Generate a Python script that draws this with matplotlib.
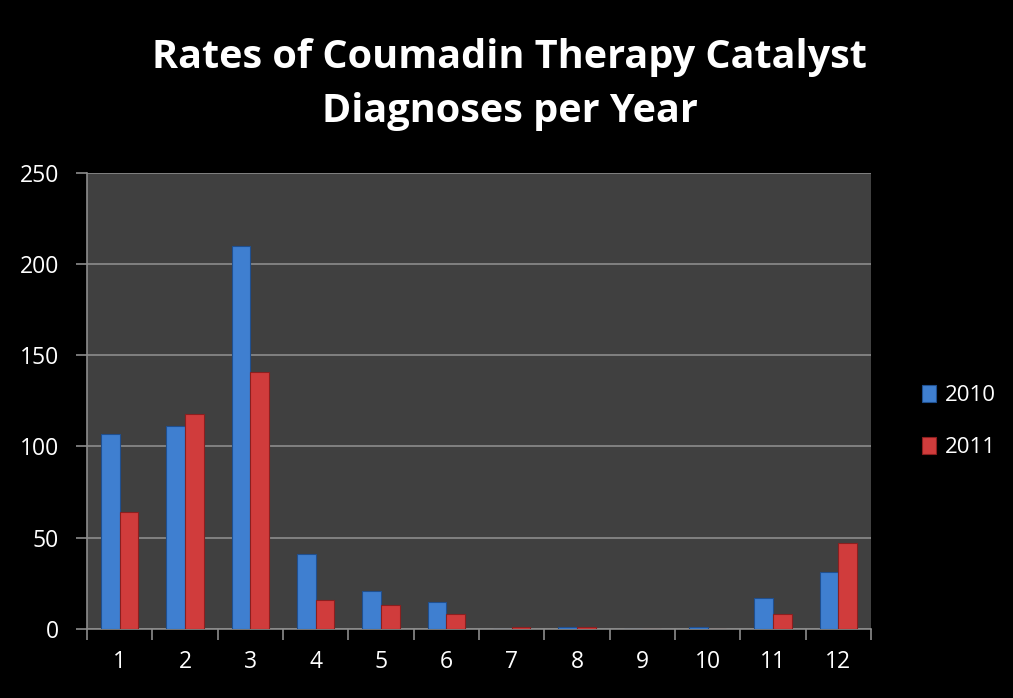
import numpy as np
import matplotlib.pyplot as plt

months = list(range(1, 13))
rates_2010 = [107, 111, 210, 41, 21, 15, 0, 1, 0, 1, 17, 31]
rates_2011 = [64, 118, 141, 16, 13, 8, 1, 1, 0, 0, 8, 47]

plt.rcParams['font.family'] = ['Open Sans', 'DejaVu Sans']

fig = plt.figure(figsize=(10.13, 6.98), dpi=100, facecolor='black')
ax = fig.add_axes([0.0859, 0.0989, 0.7739, 0.6537])
ax.set_facecolor('#404040')

x = np.array(months)
w = 0.285
ax.bar(x - w / 2, rates_2010, w, color='#3f7fd0', edgecolor='#1f4f8f', linewidth=0.8, label='2010', zorder=3)
ax.bar(x + w / 2, rates_2011, w, color='#d03c3c', edgecolor='#8a1f1f', linewidth=0.8, label='2011', zorder=3)

ax.set_xlim(0.5, 12.5)
ax.set_ylim(0, 250)
ax.set_yticks(range(0, 251, 50))
ax.set_xticks(x)
ax.set_xticks(np.arange(0.5, 13, 1), minor=True)
ax.tick_params(axis='x', which='major', length=0, pad=15, labelsize=16.5, labelcolor='white')
ax.tick_params(axis='x', which='minor', length=8, width=1.2, color='#8c8c8c', direction='out')
ax.tick_params(axis='y', length=8, width=1.2, color='#8c8c8c', labelsize=16.5, labelcolor='white', pad=12)
ax.yaxis.grid(True, color='#8c8c8c', linewidth=1.2, zorder=0)
ax.set_axisbelow(True)
for side in ['top', 'right']:
    ax.spines[side].set_visible(False)
for side in ['left', 'bottom']:
    ax.spines[side].set_color('#8c8c8c')
    ax.spines[side].set_linewidth(1.2)

fig.text(0.503, 0.879, 'Rates of Coumadin Therapy Catalyst\nDiagnoses per Year', ha='center', va='center',
         color='white', fontsize=28.5, fontweight='bold', linespacing=1.52)

leg = ax.legend(loc='center left', bbox_to_anchor=(1.04, 0.455), frameon=False, fontsize=16,
                labelcolor='white', handlelength=0.6, handleheight=0.8, handletextpad=0.4, labelspacing=1.4)

fig.savefig('out.png', dpi=100, facecolor='black')
